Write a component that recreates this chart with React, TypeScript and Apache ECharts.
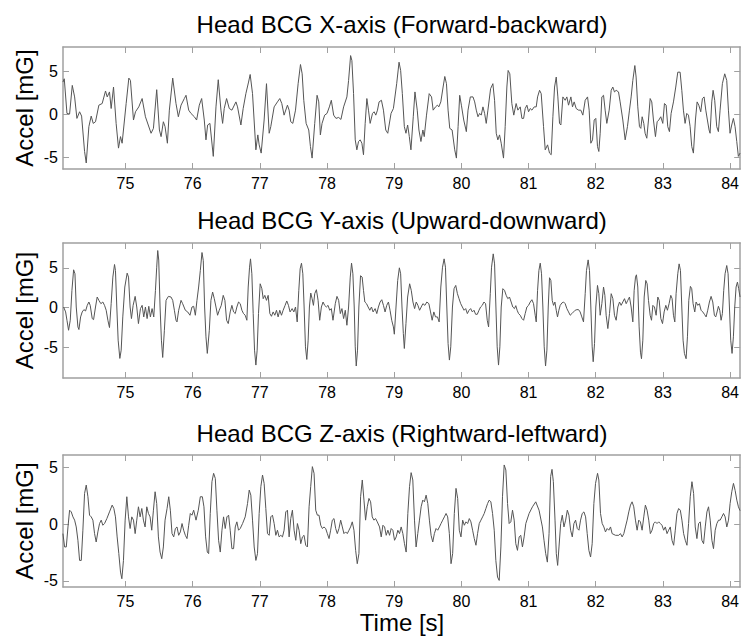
import React, { useEffect, useRef } from "react";
import * as echarts from "echarts";

const panelTitles = [
  "Head BCG X-axis (Forward-backward)",
  "Head BCG Y-axis (Upward-downward)",
  "Head BCG Z-axis (Rightward-leftward)",
];
const yAxisName = "Accel [mG]";
const xAxisName = "Time [s]";
const timeTicks = [75, 76, 77, 78, 79, 80, 81, 82, 83, 84];
const accelTicks = [-5, 0, 5];
const timeRange = [74.07, 84.15];
const accelRanges = [
  [-6.35, 7.85],
  [-8.87, 8.15],
  [-5.55, 6.12],
];

const forwardBackward: number[][] = [
  [74.069,3.77],[74.089,4.15],[74.129,0.12],[74.168,0.04],[74.208,3.38],[74.243,2.04],[74.277,-0.46],[74.317,0.31],[74.347,-0.19],[74.391,-4.31],[74.416,-5.65],[74.455,-1.42],[74.49,-0.19],[74.52,-1.04],[74.554,-0.85],[74.604,1.08],[74.653,1.27],[74.703,2.73],[74.728,2.04],[74.762,2.62],[74.787,0.69],[74.822,3.19],[74.861,-1.04],[74.896,-3.92],[74.926,-2.58],[74.95,-3.35],[75.01,1.27],[75.05,4.23],[75.074,3.96],[75.119,-0.65],[75.149,0.31],[75.198,0.88],[75.248,1.85],[75.297,-0.27],[75.381,-2.19],[75.416,-1.62],[75.465,2.88],[75.505,-1.81],[75.53,-2.58],[75.564,-0.85],[75.589,-1.42],[75.624,-3.35],[75.653,0.5],[75.703,4.23],[75.752,1.27],[75.787,-0.27],[75.827,1.08],[75.876,1.85],[75.901,2.23],[75.941,0.5],[75.975,0.12],[76.025,-0.27],[76.059,-0.65],[76.099,1.08],[76.134,1.85],[76.173,-0.65],[76.198,-2.96],[76.223,-1.23],[76.257,-1.04],[76.307,-4.88],[76.347,0.88],[76.381,4.04],[76.421,0.5],[76.446,-1.04],[76.47,0.69],[76.505,1.85],[76.545,0.69],[76.584,0.5],[76.644,1.46],[76.668,0.88],[76.718,-1.23],[76.752,0.69],[76.792,2.42],[76.832,3.77],[76.856,4.65],[76.891,2.42],[76.941,-4.12],[76.97,-2.38],[76.99,-3.54],[77.02,-4.5],[77.064,-0.65],[77.099,3.58],[77.139,-2.19],[77.163,-1.42],[77.213,0.88],[77.262,1.46],[77.297,1.85],[77.327,1.27],[77.361,-0.08],[77.411,1.08],[77.436,0.5],[77.46,-0.85],[77.491,-1.04],[77.531,0.5],[77.57,3.58],[77.605,5.81],[77.63,4.73],[77.654,1.65],[77.689,-1.04],[77.728,-1.81],[77.753,-3.73],[77.778,-5.08],[77.817,-1.04],[77.852,2.23],[77.877,1.46],[77.901,-2.38],[77.926,-1.04],[77.965,-0.08],[78.0,0.12],[78.035,0.88],[78.064,1.65],[78.099,-0.08],[78.133,-0.46],[78.173,-0.35],[78.207,-0.58],[78.247,0.88],[78.296,2.04],[78.321,3.96],[78.351,6.85],[78.37,6.27],[78.395,2.42],[78.42,-2.96],[78.444,-4.12],[78.469,-3.15],[78.494,-2.96],[78.519,-3.35],[78.543,-4.69],[78.568,-1.04],[78.593,1.85],[78.617,0.5],[78.642,-1.04],[78.677,0.12],[78.701,0.31],[78.726,-0.08],[78.751,0.5],[78.775,1.46],[78.81,1.65],[78.84,0.5],[78.874,-1.81],[78.904,-2.19],[78.953,0.12],[78.988,0.69],[79.037,3.58],[79.072,6.08],[79.096,5.12],[79.121,2.42],[79.151,-1.42],[79.175,-2.19],[79.2,-1.23],[79.225,-2.58],[79.249,-4.12],[79.284,-0.27],[79.309,2.62],[79.343,0.5],[79.368,-1.81],[79.398,-3.15],[79.427,-1.81],[79.447,-2.58],[79.481,-0.08],[79.521,2.42],[79.556,2.04],[79.58,0.5],[79.615,0.88],[79.644,1.08],[79.664,0.88],[79.694,1.46],[79.728,3.19],[79.753,4.42],[79.778,3.58],[79.802,0.5],[79.827,-1.62],[79.862,-1.81],[79.901,-4.12],[79.926,-5.08],[79.951,-1.42],[79.975,2.23],[80.0,1.08],[80.035,-0.65],[80.074,-2.0],[80.099,0.5],[80.133,2.04],[80.173,2.04],[80.198,1.46],[80.222,0.5],[80.247,-0.27],[80.272,0.12],[80.296,-0.08],[80.321,0.88],[80.346,0.12],[80.37,-1.04],[80.395,0.5],[80.435,3.0],[80.469,3.58],[80.494,1.65],[80.519,-2.19],[80.543,-2.96],[80.568,-2.38],[80.593,-3.35],[80.627,-5.08],[80.652,-1.42],[80.677,3.19],[80.696,5.12],[80.721,4.73],[80.751,1.27],[80.78,-0.08],[80.815,1.27],[80.841,0.5],[80.876,0.88],[80.901,-0.46],[80.926,-0.46],[80.95,0.69],[80.975,1.08],[81.0,0.31],[81.025,0.69],[81.05,0.5],[81.084,0.88],[81.114,0.88],[81.134,2.04],[81.164,2.81],[81.188,2.42],[81.223,-1.42],[81.248,-4.12],[81.283,-3.54],[81.312,-4.5],[81.337,-4.69],[81.362,-0.27],[81.387,3.19],[81.412,4.35],[81.436,2.04],[81.461,-1.04],[81.481,-1.23],[81.511,2.04],[81.545,1.65],[81.57,2.04],[81.595,1.08],[81.63,2.04],[81.654,0.88],[81.679,1.46],[81.709,0.69],[81.744,0.5],[81.778,0.5],[81.808,-0.08],[81.843,1.65],[81.878,2.04],[81.902,0.5],[81.927,-3.35],[81.952,-2.96],[81.977,-0.65],[82.001,-0.46],[82.026,-3.73],[82.046,-4.31],[82.066,-2.19],[82.091,2.04],[82.116,2.23],[82.14,0.5],[82.165,-1.04],[82.2,0.5],[82.23,2.81],[82.254,3.19],[82.279,2.62],[82.304,2.81],[82.339,2.62],[82.363,1.46],[82.403,-0.65],[82.438,-2.96],[82.472,-1.42],[82.502,0.5],[82.527,2.04],[82.552,3.96],[82.582,5.69],[82.601,4.35],[82.626,0.88],[82.651,-1.42],[82.671,-1.62],[82.691,-0.27],[82.715,-1.04],[82.735,-2.19],[82.76,-2.77],[82.785,-0.65],[82.81,1.85],[82.834,1.46],[82.859,-0.65],[82.889,-2.58],[82.914,-0.85],[82.939,-0.65],[82.968,-0.27],[82.998,-1.04],[83.023,1.27],[83.048,1.08],[83.072,-1.42],[83.097,-2.0],[83.122,0.12],[83.157,1.46],[83.191,3.19],[83.221,4.92],[83.256,4.92],[83.281,2.81],[83.305,0.5],[83.33,-1.04],[83.355,0.12],[83.38,-0.08],[83.405,-1.42],[83.429,-3.73],[83.454,-4.5],[83.484,-0.65],[83.509,1.46],[83.534,1.08],[83.563,0.31],[83.588,1.85],[83.613,2.04],[83.638,0.5],[83.662,-0.65],[83.687,-1.81],[83.702,-2.19],[83.727,1.46],[83.747,2.81],[83.771,1.65],[83.801,-1.42],[83.826,-2.0],[83.851,0.5],[83.885,3.58],[83.92,4.73],[83.95,3.96],[83.975,0.5],[83.999,-2.19],[84.024,-1.23],[84.049,-0.46],[84.074,-1.42],[84.099,-3.15],[84.123,-4.88],[84.148,-4.5],
];

const upwardDownward: number[][] = [
  [74.079,0.08],[74.109,-0.54],[74.129,-1.59],[74.153,-2.85],[74.178,-1.59],[74.203,2.18],[74.228,4.77],[74.248,4.27],[74.267,0.08],[74.292,-2.43],[74.307,-2.76],[74.332,-1.17],[74.356,-0.54],[74.381,-0.25],[74.406,-0.42],[74.431,0.29],[74.455,0.71],[74.475,0.29],[74.505,-1.38],[74.525,-1.51],[74.554,0.08],[74.579,1.34],[74.604,0.92],[74.634,0.5],[74.663,0.71],[74.688,0.29],[74.713,-0.33],[74.738,-1.59],[74.762,-2.51],[74.787,0.5],[74.812,3.85],[74.837,5.44],[74.851,4.69],[74.871,0.08],[74.891,-4.1],[74.916,-6.4],[74.936,-5.36],[74.96,-1.17],[74.99,2.6],[75.025,4.35],[75.045,3.85],[75.069,0.08],[75.089,-1.38],[75.114,0.29],[75.144,1.42],[75.168,0.08],[75.193,-2.01],[75.223,-0.12],[75.248,0.29],[75.272,-1.17],[75.297,0.08],[75.322,-1.38],[75.347,0.17],[75.371,-1.17],[75.396,-0.12],[75.421,-1.17],[75.446,2.18],[75.465,5.1],[75.48,7.2],[75.495,6.0],[75.515,0.08],[75.535,-4.1],[75.554,-6.28],[75.579,-2.85],[75.604,0.92],[75.639,1.42],[75.678,1.34],[75.703,0.92],[75.728,-0.33],[75.752,-1.59],[75.767,-1.8],[75.792,-0.33],[75.827,0.92],[75.851,0.5],[75.891,-0.33],[75.926,-0.54],[75.96,-0.96],[75.99,0.08],[76.015,0.17],[76.04,-0.96],[76.064,0.92],[76.089,2.6],[76.114,4.69],[76.139,6.95],[76.158,5.94],[76.178,0.08],[76.198,-3.68],[76.218,-5.77],[76.248,-2.85],[76.272,0.92],[76.297,1.97],[76.322,1.13],[76.347,0.08],[76.371,-0.96],[76.396,-0.33],[76.426,0.29],[76.455,1.55],[76.48,0.92],[76.505,-1.59],[76.53,-2.01],[76.559,-0.54],[76.584,0.29],[76.609,-0.54],[76.634,-0.75],[76.658,0.08],[76.683,0.71],[76.708,0.5],[76.733,-0.33],[76.757,-0.75],[76.782,-0.96],[76.807,-1.59],[76.827,2.6],[76.847,5.1],[76.861,6.15],[76.881,4.27],[76.901,-0.75],[76.921,-5.36],[76.941,-7.24],[76.96,-5.36],[76.98,-0.75],[77.005,3.01],[77.03,2.39],[77.05,1.13],[77.074,1.55],[77.099,0.92],[77.124,1.55],[77.149,-0.75],[77.173,-1.09],[77.198,-0.54],[77.223,-0.96],[77.248,-0.33],[77.272,-1.17],[77.297,-0.33],[77.322,-0.96],[77.347,-0.33],[77.376,0.29],[77.401,0.84],[77.426,0.29],[77.45,-0.54],[77.481,-0.12],[77.506,-0.54],[77.531,0.08],[77.556,-1.8],[77.58,2.18],[77.6,4.9],[77.62,5.6],[77.64,4.27],[77.659,0.08],[77.679,-4.94],[77.699,-6.53],[77.719,-4.1],[77.738,0.08],[77.758,1.84],[77.778,1.13],[77.798,0.29],[77.817,1.76],[77.842,2.26],[77.867,0.92],[77.891,-1.59],[77.916,0.08],[77.941,0.71],[77.965,0.29],[77.99,0.08],[78.015,0.29],[78.04,-0.33],[78.064,-0.12],[78.089,-1.59],[78.123,0.5],[78.148,1.42],[78.173,0.92],[78.198,-0.75],[78.222,-0.12],[78.247,-1.38],[78.272,-0.33],[78.296,-2.22],[78.321,0.08],[78.346,3.85],[78.365,5.61],[78.385,4.27],[78.405,0.08],[78.42,-4.94],[78.435,-7.36],[78.454,-5.36],[78.474,0.08],[78.499,4.02],[78.523,3.85],[78.543,2.18],[78.563,0.71],[78.588,0.5],[78.612,0.08],[78.637,-0.33],[78.662,0.08],[78.686,-0.54],[78.716,-0.12],[78.741,-0.75],[78.765,0.08],[78.79,0.71],[78.815,1.0],[78.84,0.29],[78.864,-0.54],[78.889,0.29],[78.914,0.71],[78.938,-0.33],[78.963,-1.59],[78.988,-2.43],[79.002,-3.35],[79.027,0.08],[79.052,3.43],[79.077,5.02],[79.096,4.27],[79.116,0.08],[79.136,-3.26],[79.151,-5.15],[79.175,-2.01],[79.2,1.34],[79.23,3.01],[79.254,2.18],[79.279,0.71],[79.304,-0.12],[79.328,0.71],[79.353,0.29],[79.378,-0.33],[79.402,0.08],[79.427,0.5],[79.457,0.29],[79.486,0.71],[79.516,0.5],[79.541,-0.54],[79.565,-1.59],[79.59,-0.54],[79.615,-1.17],[79.644,-1.17],[79.669,-1.8],[79.694,2.6],[79.719,5.1],[79.743,6.15],[79.763,5.1],[79.783,0.08],[79.802,-4.52],[79.822,-6.61],[79.842,-4.94],[79.867,0.08],[79.891,2.39],[79.916,2.8],[79.941,1.76],[79.965,1.13],[79.99,0.5],[80.015,0.08],[80.04,-0.33],[80.064,-0.12],[80.089,-0.75],[80.114,-0.33],[80.138,-0.12],[80.163,-0.54],[80.188,-0.33],[80.212,-0.84],[80.237,-0.84],[80.262,-0.33],[80.286,0.08],[80.311,0.29],[80.336,0.71],[80.36,0.5],[80.385,-1.59],[80.405,-2.43],[80.43,1.76],[80.449,5.1],[80.474,6.78],[80.494,5.52],[80.514,0.08],[80.533,-4.94],[80.553,-7.24],[80.573,-4.94],[80.593,0.08],[80.617,2.39],[80.642,2.18],[80.667,1.55],[80.691,1.13],[80.716,1.34],[80.741,0.71],[80.765,0.08],[80.79,-0.12],[80.81,0.25],[80.83,-0.33],[80.851,-0.75],[80.876,-0.96],[80.901,-1.38],[80.926,-1.59],[80.95,-0.75],[80.975,0.08],[81.0,0.29],[81.025,0.71],[81.05,1.0],[81.074,0.5],[81.099,-0.96],[81.114,-1.8],[81.134,2.18],[81.154,4.69],[81.174,5.61],[81.193,4.27],[81.213,0.08],[81.233,-4.94],[81.253,-7.36],[81.273,-5.36],[81.293,0.08],[81.312,3.77],[81.332,3.43],[81.352,0.92],[81.372,0.29],[81.392,0.71],[81.412,-0.33],[81.431,-1.17],[81.451,-0.33],[81.471,0.29],[81.496,0.59],[81.521,0.71],[81.545,0.5],[81.57,-0.12],[81.595,-0.54],[81.62,-0.96],[81.645,-0.75],[81.669,-0.54],[81.694,-0.33],[81.719,-0.25],[81.744,-0.25],[81.768,-0.54],[81.793,-1.17],[81.818,-1.8],[81.843,1.76],[81.862,4.69],[81.887,6.02],[81.907,4.69],[81.927,0.08],[81.947,-4.94],[81.962,-6.82],[81.982,-4.52],[82.001,0.08],[82.026,2.8],[82.046,1.76],[82.066,-0.96],[82.091,0.5],[82.116,2.6],[82.136,1.55],[82.155,-0.96],[82.18,-2.64],[82.205,-0.75],[82.23,1.76],[82.255,1.13],[82.279,-0.96],[82.304,-1.59],[82.329,0.08],[82.354,0.71],[82.378,0.29],[82.403,0.71],[82.428,1.13],[82.453,0.5],[82.477,0.92],[82.502,1.34],[82.527,0.08],[82.552,-1.8],[82.572,2.18],[82.592,3.85],[82.606,4.14],[82.626,2.6],[82.646,-2.43],[82.666,-5.61],[82.681,-6.44],[82.701,-4.1],[82.721,1.34],[82.745,3.43],[82.765,3.01],[82.785,0.92],[82.81,-0.96],[82.83,-1.59],[82.85,0.29],[82.874,0.08],[82.899,-0.96],[82.924,1.34],[82.944,0.92],[82.969,-1.38],[82.994,-2.01],[83.018,-0.54],[83.043,0.29],[83.067,-0.33],[83.092,0.5],[83.117,1.55],[83.137,1.13],[83.157,-0.96],[83.177,-1.8],[83.196,1.76],[83.221,4.27],[83.241,5.52],[83.261,4.69],[83.281,0.08],[83.3,-4.1],[83.32,-5.77],[83.345,-6.44],[83.365,-3.68],[83.385,0.92],[83.409,2.68],[83.429,2.39],[83.449,0.5],[83.474,-0.54],[83.494,0.71],[83.519,0.29],[83.543,0.5],[83.568,-0.33],[83.593,-0.54],[83.618,-0.84],[83.643,-1.17],[83.667,-0.33],[83.692,0.71],[83.717,1.42],[83.742,0.71],[83.766,-0.96],[83.786,-1.17],[83.806,-0.54],[83.826,0.17],[83.846,-0.33],[83.866,-1.59],[83.885,-0.75],[83.905,2.18],[83.925,4.27],[83.95,5.31],[83.97,4.27],[83.99,0.08],[84.009,-4.1],[84.029,-5.77],[84.049,-3.68],[84.069,0.08],[84.089,2.6],[84.109,3.22],[84.128,2.39],[84.148,1.34],
];

const rightwardLeftward: number[][] = [
  [74.069,-0.83],[74.094,-2.01],[74.119,-2.01],[74.144,-0.24],[74.168,1.24],[74.193,1.09],[74.218,0.65],[74.243,0.36],[74.267,-0.24],[74.292,-1.42],[74.317,-3.2],[74.342,-3.2],[74.366,-0.53],[74.391,2.72],[74.416,3.46],[74.441,2.43],[74.465,0.8],[74.49,0.65],[74.515,0.36],[74.54,-0.83],[74.564,-1.57],[74.589,-0.68],[74.614,0.06],[74.639,0.36],[74.663,-0.09],[74.688,0.06],[74.723,0.5],[74.762,1.09],[74.802,1.69],[74.827,1.39],[74.851,0.65],[74.876,-1.12],[74.901,-2.6],[74.926,-4.23],[74.946,-4.82],[74.97,-3.2],[74.995,0.36],[75.02,2.43],[75.045,0.65],[75.069,-0.38],[75.094,0.65],[75.119,0.36],[75.144,-0.83],[75.168,0.36],[75.193,1.54],[75.218,0.65],[75.243,1.39],[75.267,0.36],[75.292,-0.24],[75.317,1.54],[75.342,0.95],[75.366,0.65],[75.391,-0.53],[75.416,1.24],[75.441,2.87],[75.465,1.83],[75.49,-1.12],[75.515,-2.46],[75.54,-3.05],[75.564,-2.01],[75.589,0.36],[75.619,1.39],[75.644,2.43],[75.668,1.24],[75.693,-0.83],[75.718,-1.12],[75.743,-0.38],[75.767,-0.24],[75.792,-0.98],[75.817,-0.68],[75.842,0.06],[75.866,-0.53],[75.891,-0.98],[75.916,-1.27],[75.941,-0.09],[75.965,0.95],[75.99,0.8],[76.015,1.24],[76.05,0.36],[76.084,1.24],[76.114,2.43],[76.144,2.43],[76.168,1.54],[76.193,-1.12],[76.218,-2.46],[76.238,-2.6],[76.262,0.95],[76.287,3.76],[76.312,4.5],[76.337,4.05],[76.361,1.24],[76.386,-1.42],[76.411,-2.46],[76.436,-0.53],[76.46,0.65],[76.485,-0.38],[76.51,0.65],[76.535,0.8],[76.559,-0.53],[76.584,-2.16],[76.609,-2.16],[76.634,-0.24],[76.658,0.21],[76.683,-0.53],[76.708,-0.38],[76.743,0.06],[76.782,0.65],[76.817,1.83],[76.842,3.02],[76.866,2.57],[76.891,0.36],[76.916,-2.01],[76.941,-3.2],[76.965,-2.6],[76.99,0.95],[77.015,3.32],[77.04,4.35],[77.064,3.61],[77.089,1.39],[77.114,-0.83],[77.139,-0.98],[77.163,0.65],[77.188,0.8],[77.213,0.06],[77.238,-0.98],[77.262,-0.53],[77.287,-1.12],[77.312,-0.98],[77.337,-1.12],[77.361,-0.53],[77.386,1.09],[77.411,1.24],[77.436,-1.12],[77.46,0.5],[77.485,1.24],[77.51,-0.53],[77.535,-1.42],[77.559,0.06],[77.584,-0.53],[77.609,-1.72],[77.634,-1.12],[77.658,-0.98],[77.683,-1.86],[77.708,-2.01],[77.733,1.54],[77.757,3.32],[77.782,5.09],[77.807,4.5],[77.832,1.24],[77.856,0.8],[77.881,0.8],[77.906,-0.09],[77.931,-0.38],[77.955,-0.24],[77.98,-0.38],[78.005,-0.83],[78.03,-1.27],[78.054,-0.53],[78.079,0.36],[78.104,0.5],[78.129,-0.38],[78.153,-0.83],[78.178,-0.38],[78.203,0.36],[78.228,-0.24],[78.252,-0.83],[78.277,-0.68],[78.302,-0.83],[78.327,-0.53],[78.351,-0.24],[78.376,0.21],[78.401,-0.53],[78.426,-2.31],[78.45,-3.49],[78.475,-2.6],[78.5,2.43],[78.525,3.91],[78.55,2.13],[78.574,0.36],[78.599,1.54],[78.624,2.28],[78.649,1.98],[78.673,0.65],[78.698,0.36],[78.723,0.5],[78.748,0.21],[78.782,-0.24],[78.807,-1.12],[78.832,-0.09],[78.857,-0.24],[78.881,-0.98],[78.906,-0.53],[78.931,-0.98],[78.955,-0.38],[78.98,-0.53],[79.005,-1.42],[79.03,-1.12],[79.054,-0.53],[79.079,-0.83],[79.104,-0.24],[79.129,-0.83],[79.153,-1.72],[79.178,-2.46],[79.203,0.95],[79.228,3.32],[79.252,4.56],[79.277,3.91],[79.302,0.36],[79.326,-2.01],[79.351,-0.83],[79.376,0.36],[79.401,1.54],[79.425,2.13],[79.45,1.98],[79.475,2.57],[79.5,1.83],[79.524,0.36],[79.549,-0.98],[79.574,-1.57],[79.598,-0.83],[79.623,-0.38],[79.648,-0.53],[79.673,-0.24],[79.697,0.06],[79.722,0.36],[79.747,0.65],[79.772,0.95],[79.796,0.65],[79.821,-0.83],[79.846,-3.49],[79.87,-2.6],[79.895,0.95],[79.92,3.17],[79.945,2.28],[79.969,-0.53],[79.994,-1.12],[80.019,0.36],[80.044,-0.09],[80.068,0.21],[80.093,0.06],[80.118,0.5],[80.142,0.21],[80.167,-0.53],[80.192,-1.27],[80.217,-1.86],[80.241,-0.83],[80.266,0.06],[80.291,0.36],[80.316,0.65],[80.34,0.95],[80.365,1.39],[80.39,1.83],[80.414,2.13],[80.439,1.98],[80.464,0.95],[80.489,-0.53],[80.513,-3.2],[80.538,-4.67],[80.563,-4.97],[80.588,-2.01],[80.612,2.43],[80.637,5.24],[80.662,4.79],[80.687,1.83],[80.711,0.06],[80.736,0.21],[80.761,1.24],[80.786,0.36],[80.81,-1.72],[80.835,-2.31],[80.86,-1.12],[80.884,-0.98],[80.909,-2.01],[80.934,-1.12],[80.959,0.06],[81.008,0.95],[81.058,1.54],[81.107,1.98],[81.156,1.24],[81.206,-0.24],[81.23,-1.42],[81.255,-2.6],[81.28,-3.35],[81.305,-0.83],[81.329,4.23],[81.349,4.85],[81.369,3.76],[81.394,0.36],[81.413,-2.6],[81.433,-3.64],[81.453,-2.01],[81.478,0.06],[81.502,0.8],[81.527,-0.24],[81.552,0.36],[81.577,1.24],[81.601,0.8],[81.626,-0.53],[81.651,-1.12],[81.675,0.06],[81.7,0.36],[81.725,-0.38],[81.75,-0.53],[81.774,0.36],[81.799,0.95],[81.824,1.09],[81.849,0.65],[81.873,-0.83],[81.898,-2.31],[81.923,-2.9],[81.947,-1.72],[81.972,1.83],[81.997,3.61],[82.027,4.5],[82.046,3.91],[82.071,0.95],[82.096,0.06],[82.121,-0.24],[82.145,-0.68],[82.17,-0.38],[82.195,-0.53],[82.22,-0.24],[82.244,-0.83],[82.294,-0.98],[82.343,-0.98],[82.368,-0.83],[82.393,-1.12],[82.418,-0.83],[82.442,-0.24],[82.467,0.36],[82.492,1.09],[82.517,1.69],[82.541,1.98],[82.566,1.54],[82.591,0.36],[82.616,-0.53],[82.64,0.36],[82.665,0.21],[82.69,-0.53],[82.715,0.65],[82.739,1.69],[82.764,1.24],[82.789,0.36],[82.813,-0.83],[82.838,-0.53],[82.863,0.06],[82.887,0.21],[82.912,0.06],[82.937,0.21],[82.962,0.06],[82.986,-0.09],[83.011,-0.53],[83.036,-0.24],[83.061,-0.83],[83.085,-0.53],[83.11,-0.24],[83.135,-1.42],[83.16,-1.86],[83.184,-0.53],[83.209,0.95],[83.234,1.39],[83.259,1.24],[83.283,0.36],[83.308,-0.83],[83.333,-1.42],[83.358,-1.86],[83.382,0.06],[83.407,2.43],[83.432,3.76],[83.457,2.72],[83.481,-0.24],[83.506,-1.27],[83.531,0.06],[83.556,0.21],[83.58,-1.42],[83.605,-1.72],[83.63,-0.24],[83.655,1.09],[83.679,1.54],[83.704,0.36],[83.729,-1.42],[83.753,-2.16],[83.778,-0.53],[83.803,0.06],[83.828,0.36],[83.852,0.36],[83.877,0.65],[83.902,0.95],[83.926,0.65],[83.951,-0.24],[83.976,0.36],[84.0,1.83],[84.025,2.87],[84.05,3.61],[84.075,2.99],[84.1,2.13],[84.124,1.54],[84.148,1.2],
];

const seriesData = [forwardBackward, upwardDownward, rightwardLeftward];

const FONT = '"Liberation Sans", Arial, sans-serif';
const BOX = "#a0a0a0";
const LINE = "#555555";

const gridBoxes = [
  { left: 63, top: 47, width: 678, height: 122 },
  { left: 63, top: 243, width: 678, height: 135 },
  { left: 63, top: 455, width: 678, height: 132 },
];

function buildOption() {
  const xAxes: any[] = [];
  const yAxes: any[] = [];
  const series: any[] = [];
  const graphics: any[] = [];
  const titleY = [24, 220, 433];

  gridBoxes.forEach((g, i) => {
    const axisLine = { show: true, onZero: false, lineStyle: { color: BOX, width: 1.5 } };
    const tick = (vals: number[]) => ({
      show: true,
      inside: true,
      length: 6,
      customValues: vals,
      lineStyle: { color: BOX, width: 1 },
    });
    xAxes.push({
      type: "value",
      gridIndex: i,
      position: "bottom",
      min: timeRange[0],
      max: timeRange[1],
      axisLine,
      axisTick: tick(timeTicks),
      axisLabel: {
        show: true,
        customValues: timeTicks,
        margin: 6,
        color: "#000",
        fontSize: 16,
        fontFamily: FONT,
      },
      splitLine: { show: false },
    });
    xAxes.push({
      type: "value",
      gridIndex: i,
      position: "top",
      min: timeRange[0],
      max: timeRange[1],
      axisLine,
      axisTick: tick(timeTicks),
      axisLabel: { show: false },
      splitLine: { show: false },
    });
    yAxes.push({
      type: "value",
      gridIndex: i,
      position: "left",
      min: accelRanges[i][0],
      max: accelRanges[i][1],
      axisLine,
      axisTick: tick(accelTicks),
      axisLabel: {
        show: true,
        customValues: accelTicks,
        margin: 5,
        color: "#000",
        fontSize: 16,
        fontFamily: FONT,
      },
      splitLine: { show: false },
    });
    yAxes.push({
      type: "value",
      gridIndex: i,
      position: "right",
      min: accelRanges[i][0],
      max: accelRanges[i][1],
      axisLine,
      axisTick: tick(accelTicks),
      axisLabel: { show: false },
      splitLine: { show: false },
    });
    series.push({
      type: "line",
      xAxisIndex: 2 * i,
      yAxisIndex: 2 * i,
      data: seriesData[i],
      showSymbol: false,
      symbol: "none",
      lineStyle: { color: LINE, width: 1 },
      silent: true,
      clip: true,
    });
    graphics.push({
      type: "text",
      x: g.left + g.width / 2,
      y: titleY[i],
      style: {
        text: panelTitles[i],
        fontSize: 24,
        fontFamily: FONT,
        fill: "#000",
        align: "center",
        verticalAlign: "middle",
      },
    });
    graphics.push({
      type: "text",
      x: 24,
      y: g.top + g.height / 2,
      rotation: Math.PI / 2,
      style: {
        text: yAxisName,
        fontSize: 24,
        fontFamily: FONT,
        fill: "#000",
        align: "center",
        verticalAlign: "middle",
      },
    });
  });

  graphics.push({
    type: "text",
    x: gridBoxes[2].left + gridBoxes[2].width / 2,
    y: 622,
    style: {
      text: xAxisName,
      fontSize: 24,
      fontFamily: FONT,
      fill: "#000",
      align: "center",
      verticalAlign: "middle",
    },
  });

  return {
    animation: false,
    backgroundColor: "#ffffff",
    grid: gridBoxes.map((g) => ({ ...g, containLabel: false })),
    xAxis: xAxes,
    yAxis: yAxes,
    series,
    graphic: graphics,
  };
}

export default function App() {
  const ref = useRef<HTMLDivElement | null>(null);
  useEffect(() => {
    if (!ref.current) return;
    const chart = echarts.init(ref.current, undefined, { renderer: "svg" });
    chart.setOption(buildOption() as any);
    return () => chart.dispose();
  }, []);
  return (
    <div
      ref={ref}
      style={{ position: "absolute", left: 0, top: 0, width: 742, height: 639, background: "#fff" }}
    />
  );
}
